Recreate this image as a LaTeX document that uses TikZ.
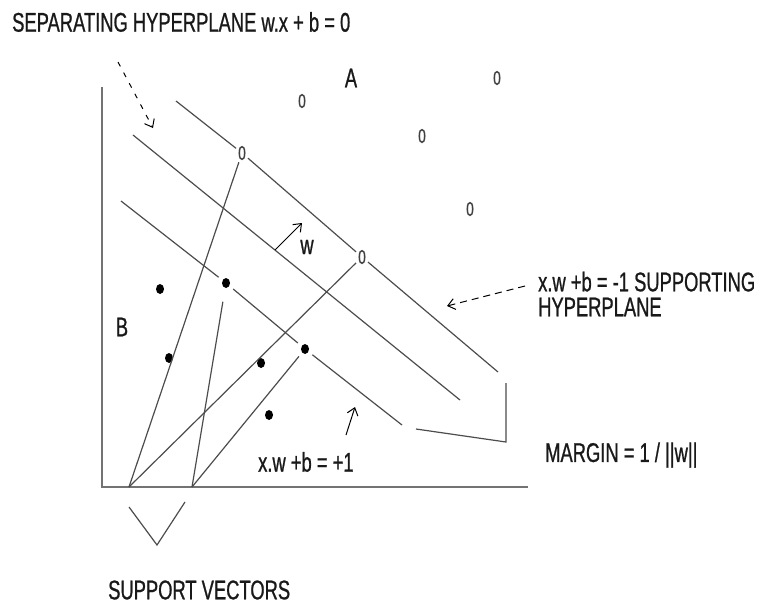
\documentclass[tikz,border=0pt]{standalone}
\usepackage{fontspec}
\newfontfamily\agency[FakeStretch=0.68, FakeBold=0.8]{Liberation Sans}
\usetikzlibrary{arrows.meta,shapes.geometric}

\tikzset{
  hyper/.style={draw=black!70, line width=1.2pt},
  axisline/.style={draw=black!55, line width=2pt},
  lbl/.style={font=\agency\fontsize{27}{25}\selectfont, text=black!90, inner sep=0pt},
  zero/.style={font=\agency\fontsize{20}{20}\selectfont, text=black!75, inner sep=2pt},
  bdot/.style={ellipse, fill=black, minimum width=8pt, minimum height=10pt, inner sep=0pt, outer sep=5pt},
}

\begin{document}
\begin{tikzpicture}[x=1pt, y=-1pt, >={Straight Barb[length=7pt, width=11pt]}]
    \useasboundingbox (0,0) rectangle (760,606);

    % Axes
    \coordinate (ytop) at (102,87);
    \coordinate (orig) at (102,487);
    \coordinate (xend) at (528,487);
    \draw[axisline] (ytop) -- (orig) -- (xend);

    % Class A points
    \node[zero] (a1) at (242,153) {0};
    \node[zero] (a2) at (362,257) {0};
    \node[zero] (a3) at (302,101) {0};
    \node[zero] (a4) at (497,78) {0};
    \node[zero] (a5) at (422,136) {0};
    \node[zero] (a6) at (470,209) {0};

    % Class B points
    \node[bdot] (b1) at (160,289) {};
    \node[bdot] (b2) at (226,283) {};
    \node[bdot] (b3) at (169,358) {};
    \node[bdot] (b4) at (261,363) {};
    \node[bdot] (b5) at (305,349) {};
    \node[bdot] (b6) at (269,415) {};

    % Hyperplanes
    \coordinate (up0) at (176,101);
    \coordinate (up1) at (498,372);
    \draw[hyper] (up0) -- (a1) -- (a2) -- (up1);
    \coordinate (sep0) at (133,135);
    \coordinate (sep1) at (460,400);
    \draw[hyper] (sep0) -- (sep1);
    \coordinate (lo0) at (121,201);
    \coordinate (lo1) at (402,425);
    \draw[hyper] (lo0) -- (b2) -- (b5) -- (lo1);

    % Margin
    \coordinate (m0) at (416,429);
    \coordinate (m1) at (506,442);
    \coordinate (m2) at (506,383);
    \draw[hyper] (m0) -- (m1) -- (m2);

    % Support vectors
    \coordinate (sv1) at (129,487);
    \coordinate (sv2) at (192,487);
    \draw[hyper] (sv1) -- (a1);
    \draw[hyper] (sv1) -- (a2);
    \draw[hyper, shorten >=9pt] (sv2) -- (b2);
    \draw[hyper] (sv2) -- (b5);
    \coordinate (v0) at (129,507);
    \coordinate (v1) at (157,545);
    \coordinate (v2) at (185,502);
    \draw[hyper] (v0) -- (v1) -- (v2);

    % Labels
    \node[lbl, anchor=west] (title) at (12,22) {SEPARATING HYPERPLANE w.x + b = 0};
    \node[lbl] (lA) at (351,78) {A};
    \node[lbl] (lB) at (122,327) {B};
    \node[lbl] (lw) at (307,247) {w};
    \node[lbl, anchor=west, align=left] (supp) at (538,294) {x.w +b = -1 SUPPORTING\\HYPERPLANE};
    \node[lbl, anchor=west] (plus) at (258,462) {x.w +b = +1};
    \node[lbl, anchor=west] (margin) at (545,455) {MARGIN = 1 / ||w||};
    \node[lbl, anchor=west] (svlbl) at (108,590) {SUPPORT VECTORS};

    % Arrows
    \coordinate (wt) at (275,250);
    \coordinate (wh) at (302,223);
    \draw[->, line width=1pt] (wt) -- (wh);
    \coordinate (dt0) at (118,62);
    \coordinate (dt1) at (153,128);
    \draw[->, line width=1pt, dash pattern=on 5pt off 7pt] (dt0) -- (dt1);
    \coordinate (dr0) at (525,286);
    \coordinate (dr1) at (447,306);
    \draw[->, line width=1pt, dash pattern=on 7pt off 5pt] (dr0) -- (dr1);
    \coordinate (pa0) at (346,435);
    \coordinate (pa1) at (355,407);
    \draw[->, line width=1pt] (pa0) -- (pa1);
\end{tikzpicture}
\end{document}
